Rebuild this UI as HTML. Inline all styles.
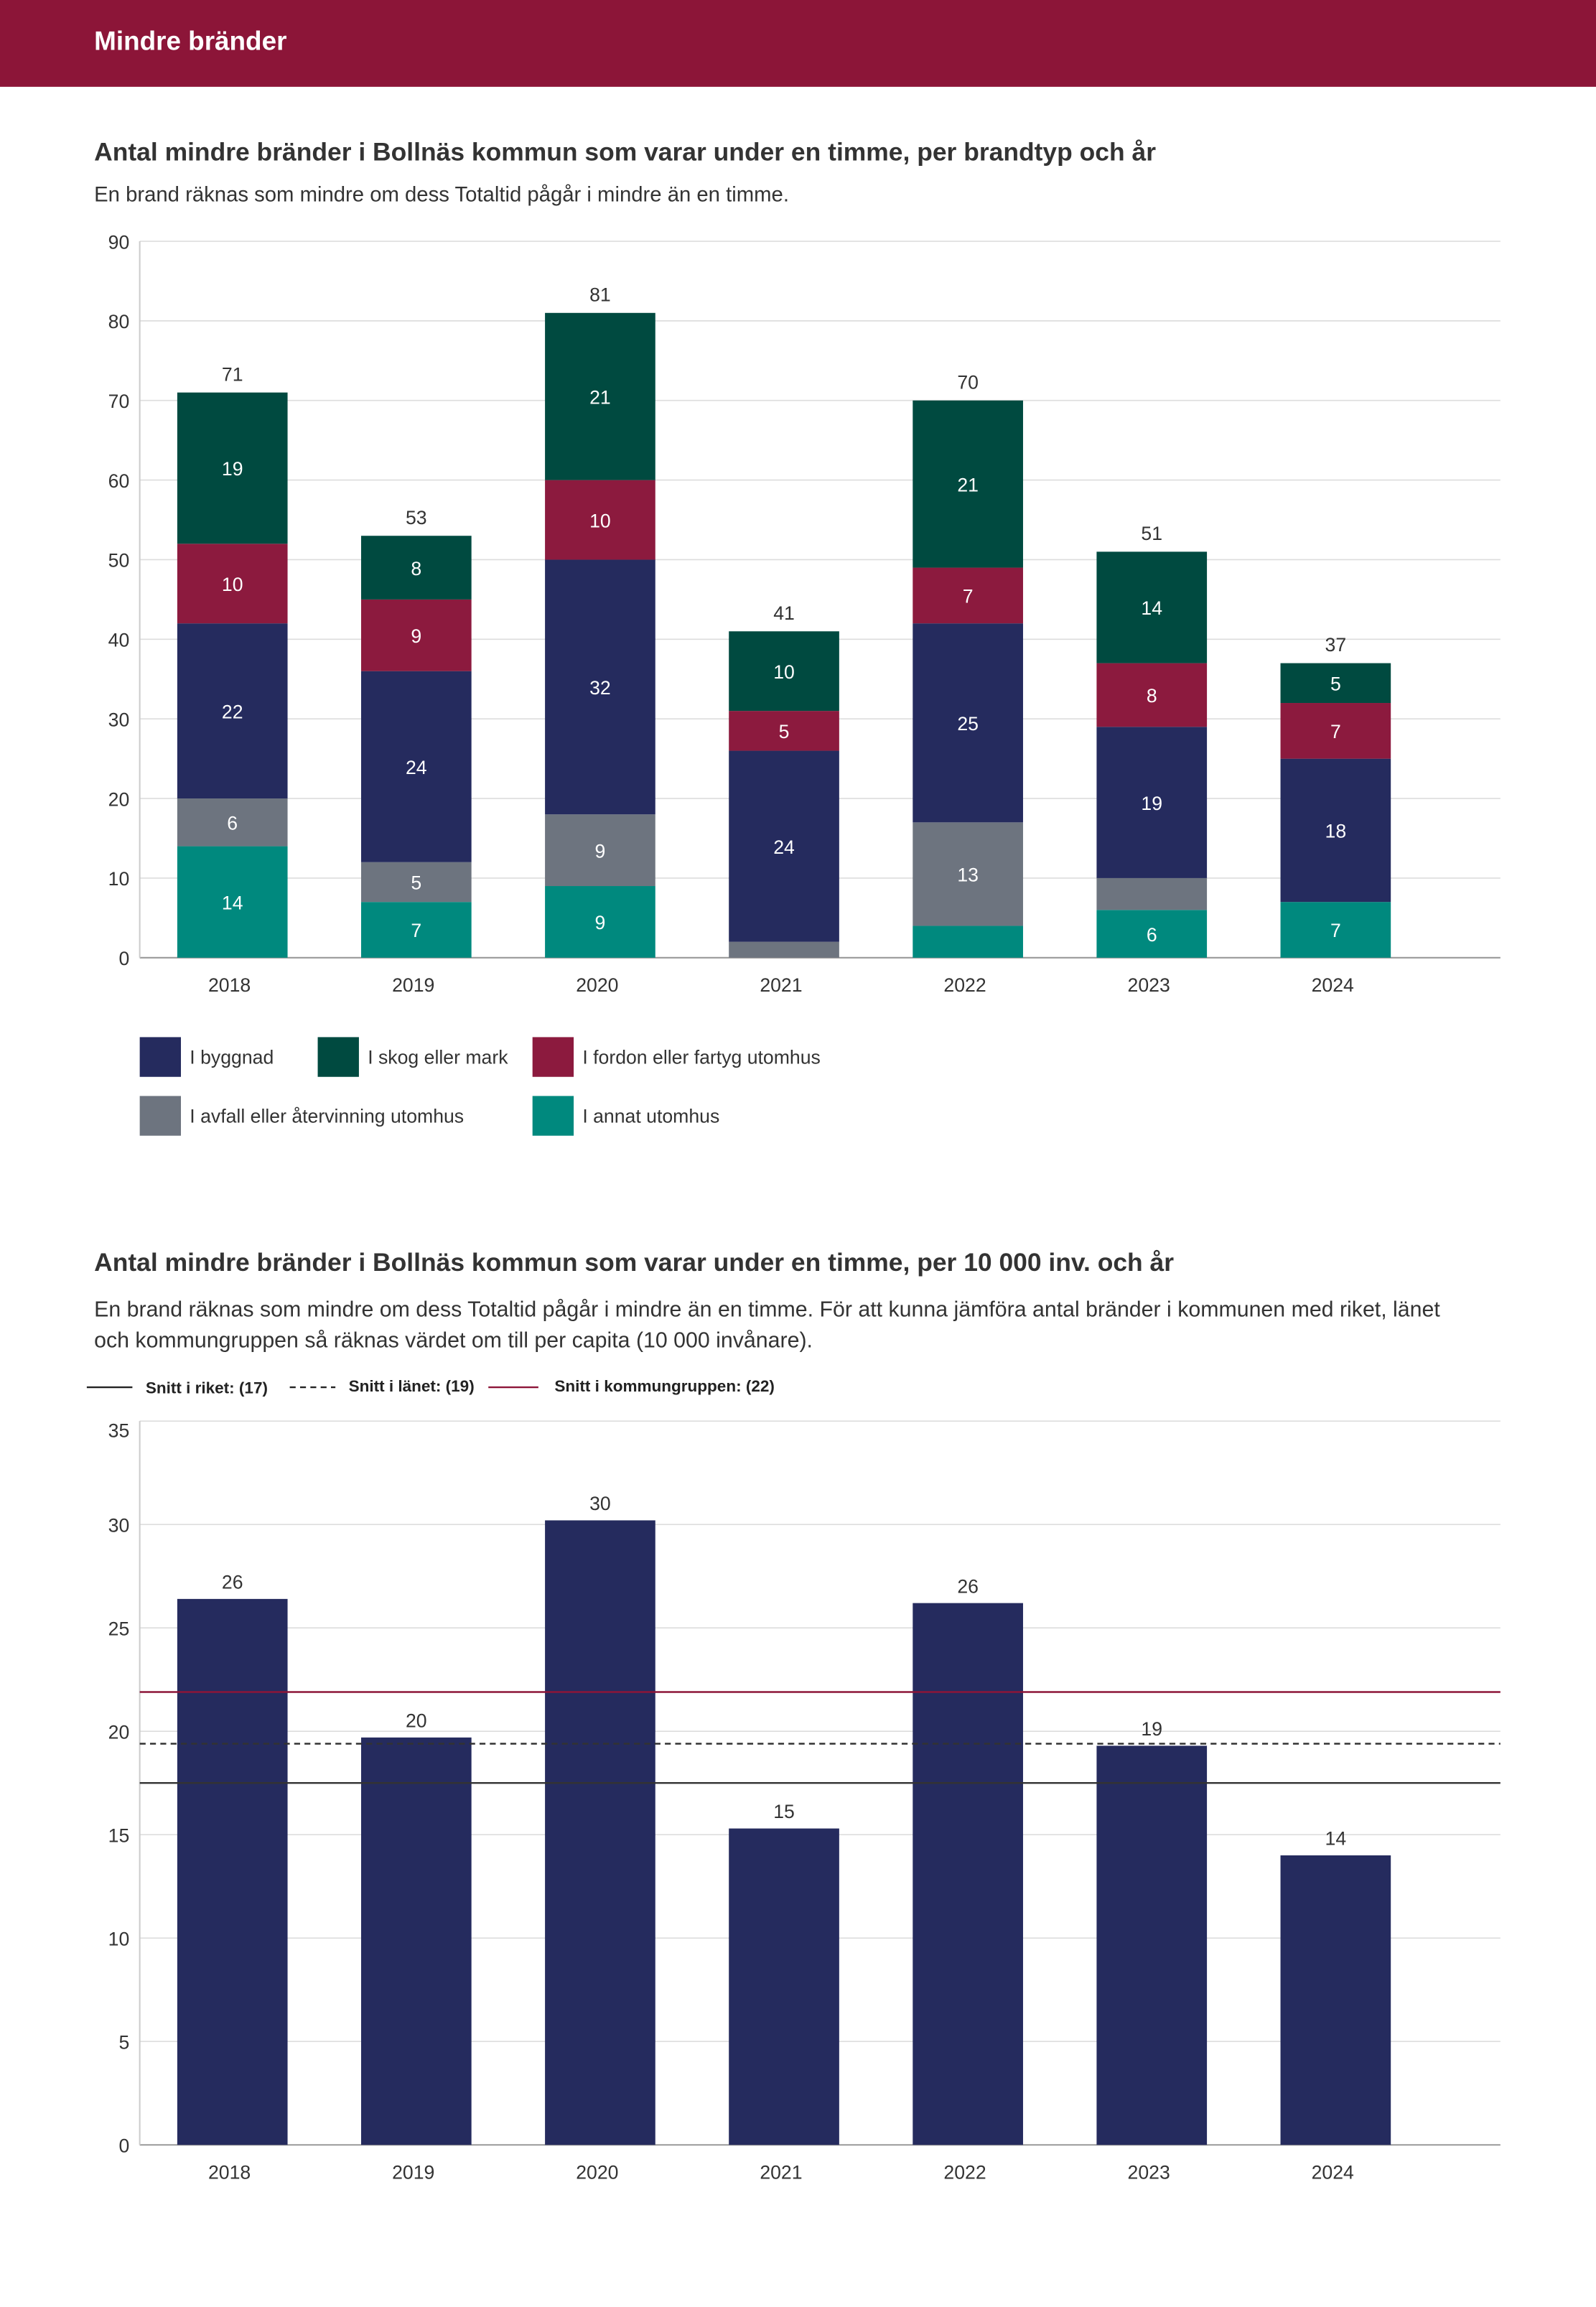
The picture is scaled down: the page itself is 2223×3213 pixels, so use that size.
<!DOCTYPE html>
<html><head><meta charset="utf-8"><style>
html,body{margin:0;padding:0;background:#fff}
svg{display:block;font-family:"Liberation Sans",sans-serif}
</style></head><body>
<svg id="s" width="2223" height="3213" viewBox="0 0 1085 1568.2" xmlns="http://www.w3.org/2000/svg">
<rect x="0" y="0" width="1085" height="59" fill="#8C1538"/>
<text x="64" y="34" fill="#fff" font-size="18" font-weight="bold">Mindre bränder</text>
<text x="64" y="109" fill="#333" font-size="17.3" font-weight="bold">Antal mindre bränder i Bollnäs kommun som varar under en timme, per brandtyp och år</text>
<text x="64" y="137" fill="#333" font-size="14.3">En brand räknas som mindre om dess Totaltid pågår i mindre än en timme.</text>
<g id="c1"></g>
<g id="leg1"></g>
<text x="64" y="864" fill="#333" font-size="17.3" font-weight="bold">Antal mindre bränder i Bollnäs kommun som varar under en timme, per 10 000 inv. och år</text>
<text x="64" y="895" fill="#333" font-size="14.8">En brand räknas som mindre om dess Totaltid pågår i mindre än en timme. För att kunna jämföra antal bränder i kommunen med riket, länet</text>
<text x="64" y="916" fill="#333" font-size="14.8">och kommungruppen så räknas värdet om till per capita (10 000 invånare).</text>
<g font-size="11" font-weight="bold" fill="#222">
<line x1="59" y1="943" x2="90" y2="943" stroke="#222" stroke-width="1.2"/>
<text x="99" y="947">Snitt i riket: (17)</text>
<line x1="197" y1="943" x2="228" y2="943" stroke="#222" stroke-width="1.2" stroke-dasharray="4,3"/>
<text x="237" y="946">Snitt i länet: (19)</text>
<line x1="332" y1="943" x2="366" y2="943" stroke="#8C1538" stroke-width="1.2"/>
<text x="377" y="946">Snitt i kommungruppen: (22)</text>
</g>
<g id="c2"></g>
</svg>
<script>
const years=["2018","2019","2020","2021","2022","2023","2024"];
const annat=[14,7,9,0,4,6,7];
const avfall=[6,5,9,2,13,4,0];
const byggnad=[22,24,32,24,25,19,18];
const fordon=[10,9,10,5,7,8,7];
const skog=[19,8,21,10,21,14,5];
const c1Ticks=[0,10,20,30,40,50,60,70,80,90];
const perCap=[26.4,19.7,30.2,15.3,26.2,19.3,14.0];
const perCapLabels=["26","20","30","15","26","19","14"];
const c2Ticks=[0,5,10,15,20,25,30,35];
const riket=17.5, lanet=19.4, kommungrupp=21.9;

const NS="http://www.w3.org/2000/svg";
function mk(p,t,a){const e=document.createElementNS(NS,t);for(const k in a)e.setAttribute(k,a[k]);p.appendChild(e);return e;}
const xC=i=>158+i*125, BW=75;

// chart 1
const c1=document.getElementById('c1');
const y1=v=>651-v*(487/90);
c1Ticks.forEach(t=>{
  const l=mk(c1,'line',{x1:95,x2:1020,y1:y1(t),y2:y1(t),stroke:t?'#ddd':'#999','stroke-width':t?0.8:1});
  
  
  const tx=mk(c1,'text',{x:88,y:y1(t)+5,'text-anchor':'end','font-size':13,fill:'#333'});tx.textContent=t;
  
  
});
const ax=mk(c1,'line',{x1:95,x2:95,y1:164,y2:651,stroke:'#ccc'});


const series=[[annat,'#00897E','annat'],[avfall,'#6D747F','avfall'],[byggnad,'#252B5E','byggnad'],[fordon,'#8C1A3E','fordon'],[skog,'#004A40','skog']];
years.forEach((yr,i)=>{
  let base=0;
  series.forEach(([arr,col,nm])=>{
    const v=arr[i];
    if(v>0){
      const r=mk(c1,'rect',{x:xC(i)-BW/2,y:y1(base+v),width:BW,height:y1(base)-y1(base+v),fill:col});
      
      
      if(v>=5){const t=mk(c1,'text',{x:xC(i),y:(y1(base)+y1(base+v))/2+5,'text-anchor':'middle','font-size':13,fill:'#fff'});t.textContent=v;
        
        }
    }
    base+=v;
  });
  const tt=mk(c1,'text',{x:xC(i),y:y1(base)-8,'text-anchor':'middle','font-size':13,fill:'#333'});tt.textContent=base;
  
  
  const xl=mk(c1,'text',{x:xC(i)-2,y:674,'text-anchor':'middle','font-size':13,fill:'#333'});xl.textContent=yr;
  
  
});
// legend 1
const leg=document.getElementById('leg1');
[[95,705,'#252B5E','I byggnad'],[216,705,'#004A40','I skog eller mark'],[362,705,'#8C1A3E','I fordon eller fartyg utomhus'],[95,745,'#6D747F','I avfall eller återvinning utomhus'],[362,745,'#00897E','I annat utomhus']].forEach(([x,y,c,l])=>{
  const r=mk(leg,'rect',{x:x,y:y,width:28,height:27,fill:c});
  
  
  const t=mk(leg,'text',{x:x+34,y:y+18,'font-size':13,fill:'#333'});t.textContent=l;
  
  
});

// chart 2
const c2=document.getElementById('c2');
const y2=v=>1458-v*(492/35);
c2Ticks.forEach(t=>{
  const l=mk(c2,'line',{x1:95,x2:1020,y1:y2(t),y2:y2(t),stroke:t?'#ddd':'#999','stroke-width':t?0.8:1});
  
  
  const tx=mk(c2,'text',{x:88,y:y2(t)+(t===35?11:5),'text-anchor':'end','font-size':13,fill:'#333'});tx.textContent=t;
  
  
});
const ax2=mk(c2,'line',{x1:95,x2:95,y1:y2(35),y2:1458,stroke:'#ccc'});


years.forEach((yr,i)=>{
  const r=mk(c2,'rect',{x:xC(i)-BW/2,y:y2(perCap[i]),width:BW,height:y2(0)-y2(perCap[i]),fill:'#252B5E'});
  
  
  const t=mk(c2,'text',{x:xC(i),y:y2(perCap[i])-7,'text-anchor':'middle','font-size':13,fill:'#333'});t.textContent=perCapLabels[i];
  
  
  const xl=mk(c2,'text',{x:xC(i)-2,y:1481,'text-anchor':'middle','font-size':13,fill:'#333'});xl.textContent=yr;
  
  
});
[[riket,'#333',''],[lanet,'#333','4,3'],[kommungrupp,'#8C1538','']].forEach(([v,c,d],k)=>{
  const l=mk(c2,'line',{x1:95,x2:1020,y1:y2(v),y2:y2(v),stroke:c,'stroke-width':1.2,'stroke-dasharray':d||'none'});
  
  
});
</script>
</body></html>
